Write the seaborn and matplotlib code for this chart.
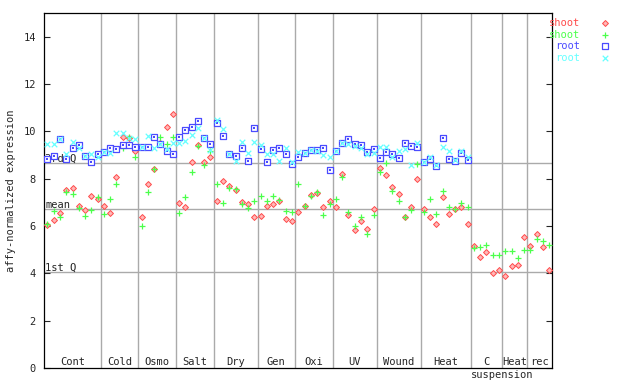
"""Expression profile chart: shoot and root replicates across stress treatments."""

import matplotlib
matplotlib.use('Agg')
import matplotlib.pyplot as plt
import seaborn as sns
import numpy as np
import pandas as pd

# treatment groups along the x axis, with the number of samples in each
groups = ['Cont', 'Cold', 'Osmo', 'Salt', 'Dry', 'Gen', 'Oxi', 'UV',
          'Wound', 'Heat', 'C', 'Heat', 'rec']
group_sublabels = ['', '', '', '', '', '', '', '', '', '', 'suspension', '', '']
group_sizes = [9, 6, 6, 6, 7, 6, 6, 7, 7, 8, 5, 4, 4]

# shoot replicates (all groups)
shoot_1 = [6.04, 6.25, 6.53, 7.52, 7.59, 6.84, 6.67, 7.27, 7.13,
           6.84, 6.53, 8.06, 9.77, 9.70, 9.17,
           6.36, 7.76, 8.41, 9.49, 10.17, 10.73,
           6.96, 6.82, 8.69, 9.42, 8.72, 8.90,
           7.06, 7.90, 7.69, 7.52, 7.00, 6.92, 6.36,
           6.44, 6.86, 6.92, 7.06, 6.28, 6.22,
           6.60, 6.84, 7.31, 7.41, 6.79, 7.07,
           6.79, 8.20, 6.46, 5.83, 6.21, 5.86, 6.70,
           8.44, 8.15, 7.63, 7.34, 6.36, 6.79, 7.98,
           6.72, 6.39, 6.07, 7.21, 6.49, 6.72, 6.79, 6.08,
           5.15, 4.68, 4.89, 4.00, 4.14,
           3.89, 4.31, 4.34, 5.52,
           5.15, 5.65, 5.13, 4.14]
shoot_2 = [6.08, 6.63, 6.36, 7.42, 7.34, 6.77, 6.41, 6.67, 7.24,
           6.49, 7.13, 7.77, 9.28, 9.77, 8.90,
           6.00, 7.42, 8.41, 9.75, 9.46, 9.75,
           6.53, 7.21, 8.27, 9.39, 8.58, 9.18,
           7.76, 6.96, 7.59, 7.55, 6.92, 6.75, 7.06,
           7.27, 7.07, 7.28, 7.10, 6.63, 6.58,
           7.76, 6.84, 7.27, 7.45, 6.46, 6.93,
           7.14, 8.06, 6.58, 6.01, 6.36, 5.65, 6.46,
           8.27, 8.65, 7.49, 7.06, 6.36, 6.67, 8.62,
           6.60, 7.14, 6.49, 7.48, 6.79, 6.72, 6.98, 6.79,
           5.06, 5.10, 5.20, 4.77, 4.77,
           4.94, 4.94, 4.63, 4.99,
           4.99, 5.44, 5.38, 5.20]

# root replicates (first ten groups only)
root_1 = [8.82, 8.96, 9.66, 8.82, 9.28, 9.42, 8.96, 8.69, 9.04,
          9.14, 9.28, 9.24, 9.42, 9.42, 9.32,
          9.35, 9.35, 9.75, 9.46, 9.18, 9.04,
          9.75, 10.06, 10.17, 10.45, 9.70, 9.45,
          10.34, 9.80, 9.04, 8.96, 9.28, 8.75, 10.13,
          9.24, 8.69, 9.20, 9.28, 9.04, 8.62,
          8.90, 9.07, 9.20, 9.20, 9.28, 8.36,
          9.18, 9.49, 9.66, 9.45, 9.42, 9.11, 9.24,
          8.86, 9.14, 9.04, 8.86, 9.49, 9.38, 9.32,
          8.69, 8.82, 8.53, 9.70, 8.82, 8.75, 9.07, 8.79]
root_2 = [9.46, 9.46, 9.66, 9.04, 9.56, 9.31, 8.96, 9.04, 8.90,
          9.14, 9.10, 9.91, 9.91, 9.70, 9.66,
          9.35, 9.80, 9.28, 9.46, 9.24, 9.50,
          9.49, 9.60, 9.85, 10.13, 9.70, 9.21,
          10.50, 10.08, 9.04, 8.76, 9.56, 9.07, 9.56,
          9.42, 9.04, 9.04, 8.75, 9.28, 8.72,
          9.14, 9.07, 9.21, 9.18, 9.00, 8.90,
          9.18, 9.49, 9.46, 9.40, 9.28, 9.04, 9.10,
          9.35, 9.32, 8.93, 9.18, 9.24, 8.58, 9.49,
          8.69, 8.90, 8.58, 9.35, 9.18, 8.79, 9.18, 8.90]

# reference lines
quartile_names = ['3rd Q', 'mean', '1st Q']
quartile_values = [8.65, 6.72, 4.04]

RED = '#ff4b4b'
GREEN = '#4bff4b'
BLUE = '#4b4bff'
CYAN = '#66ffff'
GRID = '#aaaaaa'


def main():
    sns.set_style('white')
    plt.rcParams['font.family'] = ['DejaVu Sans Mono']
    plt.rcParams['font.size'] = 7.5

    fig = plt.figure(figsize=(6.4, 3.84), dpi=100)
    ax = fig.add_axes([44.3 / 640, 16 / 384, 508 / 640, 355 / 384])

    n = len(shoot_1)
    ax.set_xlim(-0.5, n - 0.5)
    ax.set_ylim(0, 15)

    # group separators and quartile lines
    edges = np.cumsum(group_sizes)
    for b in edges[:-1] - 0.5:
        ax.axvline(b, color=GRID, lw=1, zorder=0)
    for name, val in zip(quartile_names, quartile_values):
        ax.axhline(val, color=GRID, lw=1, zorder=0)
        ax.text(-0.35, val + 0.06, name, ha='left', va='baseline', fontsize=7.5)

    def frame(values):
        return pd.DataFrame({'sample': np.arange(len(values)), 'value': values})

    sns.scatterplot(data=frame(shoot_1), x='sample', y='value', ax=ax,
                    marker='D', color='#ffb8b8', edgecolor=RED, linewidth=0.7,
                    s=9, label='shoot', zorder=3)
    sns.scatterplot(data=frame(shoot_2), x='sample', y='value', ax=ax,
                    marker='+', color=GREEN, linewidth=0.9, s=22,
                    label='shoot', zorder=3)
    # root rep 1: open square with a centre dot
    sns.scatterplot(data=frame(root_1), x='sample', y='value', ax=ax,
                    marker='s', color='white', edgecolor=BLUE,
                    linewidth=0.9, s=16, label='root', zorder=3)
    sns.scatterplot(data=frame(root_1), x='sample', y='value', ax=ax,
                    marker='s', color=BLUE, linewidth=0, s=1.2, zorder=3)
    sns.scatterplot(data=frame(root_2), x='sample', y='value', ax=ax,
                    marker='x', color=CYAN, linewidth=0.9, s=16,
                    label='root', zorder=3)

    # group labels inside the bottom of the plot
    starts = edges - np.array(group_sizes)
    for name, sub, start, size in zip(groups, group_sublabels, starts, group_sizes):
        ax.text(start + (size - 1) / 2, 0.12, name, ha='center', va='baseline',
                fontsize=7.5)
        if sub:
            ax.text(start - 0.5, -0.42, sub, ha='left', va='baseline',
                    fontsize=7.5, clip_on=False)

    ax.set_xticks([])
    ax.set_xlabel('')
    ax.set_yticks(np.arange(0, 15, 2))
    ax.tick_params(axis='y', direction='in', length=4, width=0.8, pad=6,
                   left=True, right=True, labelsize=7.5)
    ax.set_ylabel('affy-normalized expression', fontsize=7.5)
    ax.yaxis.set_label_coords(-0.055, 0.5)
    for sp in ax.spines.values():
        sp.set_color('black')
        sp.set_linewidth(0.9)

    ax.legend(loc='upper left', bbox_to_anchor=(549 / 640, 1 - 18 / 384),
              bbox_transform=fig.transFigure, frameon=False, markerfirst=False,
              labelcolor=[RED, GREEN, BLUE, CYAN], handlelength=1.6,
              handletextpad=1.6, labelspacing=0.15, borderpad=0,
              borderaxespad=0, fontsize=7.5)

    fig.savefig('out.png', dpi=100)


if __name__ == '__main__':
    main()
